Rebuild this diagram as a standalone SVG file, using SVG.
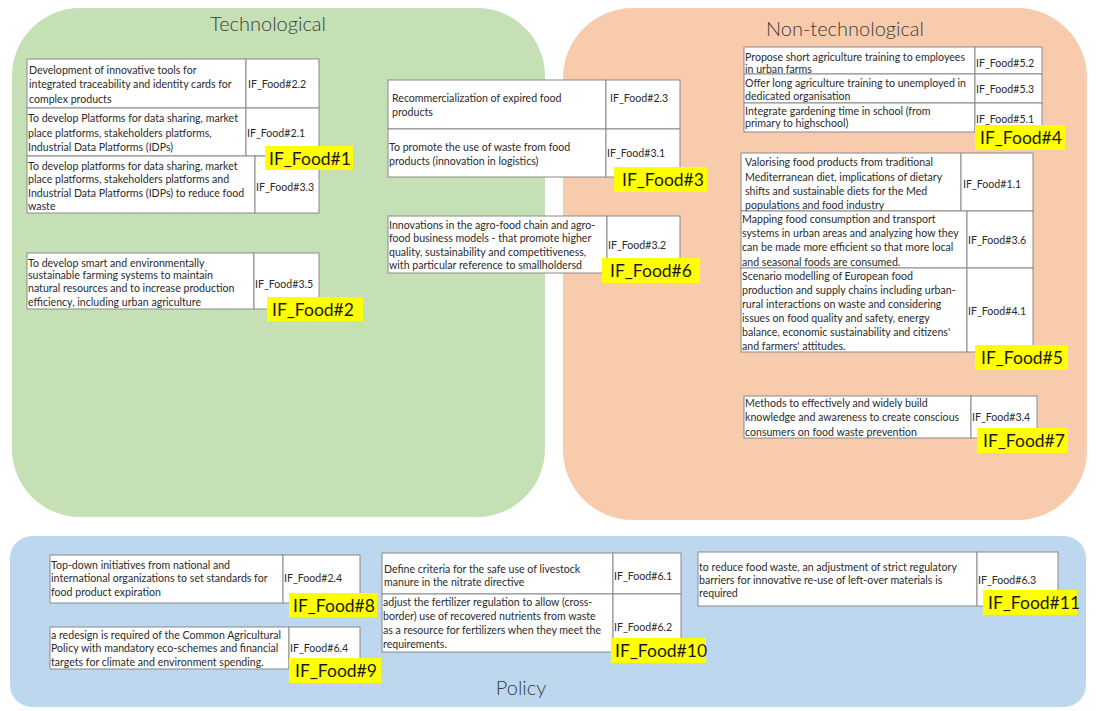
<svg xmlns="http://www.w3.org/2000/svg" width="1097" height="711" viewBox="0 0 1097 711">
<style>
.bg{fill:#fff}
.c{fill:#fff;stroke:#8a8a8a;stroke-width:1}
.t{font-family:Lato,"Liberation Sans",sans-serif;font-size:10.6px;fill:#2b2b2b}
.k{font-family:Lato,"Liberation Sans",sans-serif;font-size:10.6px;fill:#2b2b2b}
.y{fill:#ffff00}
.yt{font-family:Lato,"Liberation Sans",sans-serif;font-size:17.5px;fill:#1a1a1a}
.title{font-family:Lato,"Liberation Sans",sans-serif;font-size:20px;font-weight:300;fill:#3a3a3a;text-anchor:middle}
</style>
<rect class="bg" x="0" y="0" width="1097" height="711"/>
<g id="region-technological">
<rect x="12" y="8" width="533" height="509" rx="68" ry="68" fill="#c5e0b4"/>
<text class="title" x="268" y="31">Technological</text>
</g>
<g id="region-nontechnological">
<rect x="563" y="8" width="524" height="512" rx="70" ry="70" fill="#f8cbad"/>
<text class="title" x="845" y="36">Non-technological</text>
</g>
<g id="region-policy">
<rect x="10" y="536" width="1076" height="171" rx="22" ry="22" fill="#bdd7ee"/>
<text class="title" x="521" y="695">Policy</text>
</g>

<g id="node-IF_Food1">
<rect class="c" x="27" y="59" width="219" height="49"/><rect class="c" x="246" y="59" width="73" height="49"/>
<rect class="c" x="27" y="108" width="219" height="48"/><rect class="c" x="246" y="108" width="73" height="48"/>
<rect class="c" x="27" y="156" width="228" height="57"/><rect class="c" x="255" y="156" width="64" height="57"/>
<text class="t" x="29" y="74">Development of innovative tools for</text>
<text class="t" x="29" y="88">integrated traceability and identity cards for</text>
<text class="t" x="29" y="103">complex products</text>
<text class="k" x="248" y="88">IF_Food#2.2</text>
<text class="t" x="28" y="122">To develop Platforms for data sharing, market</text>
<text class="t" x="28" y="137">place platforms, stakeholders platforms,</text>
<text class="t" x="28" y="151">Industrial Data Platforms (IDPs)</text>
<text class="k" x="247" y="137">IF_Food#2.1</text>
<text class="t" x="28" y="170">To develop platforms for data sharing, market</text>
<text class="t" x="28" y="183">place platforms, stakeholders platforms and</text>
<text class="t" x="28" y="197">Industrial Data Platforms (IDPs) to reduce food</text>
<text class="t" x="28" y="210">waste</text>
<text class="k" x="256" y="191">IF_Food#3.3</text>
<rect class="y" x="265" y="146" width="88" height="24"/>
<text class="yt" x="269" y="165">IF_Food#1</text>
</g>

<g id="node-IF_Food2">
<rect class="c" x="27" y="253" width="227" height="56"/><rect class="c" x="254" y="253" width="65" height="56"/>
<text class="t" x="28" y="267">To develop smart and environmentally</text>
<text class="t" x="28" y="279">sustainable farming systems to maintain</text>
<text class="t" x="28" y="292">natural resources and to increase production</text>
<text class="t" x="28" y="306">efficiency, including urban agriculture</text>
<text class="k" x="255" y="288">IF_Food#3.5</text>
<rect class="y" x="267" y="297" width="96" height="24"/>
<text class="yt" x="272" y="316">IF_Food#2</text>
</g>

<g id="node-IF_Food3">
<rect class="c" x="388" y="80" width="218" height="49"/><rect class="c" x="606" y="80" width="74" height="49"/>
<rect class="c" x="388" y="129" width="218" height="48"/><rect class="c" x="606" y="129" width="74" height="48"/>
<text class="t" x="392" y="102">Recommercialization of expired food</text>
<text class="t" x="392" y="116">products</text>
<text class="k" x="610" y="102">IF_Food#2.3</text>
<text class="t" x="389" y="151">To promote the use of waste from food</text>
<text class="t" x="389" y="165">products (innovation in logistics)</text>
<text class="k" x="607" y="157">IF_Food#3.1</text>
<rect class="y" x="614" y="167" width="93" height="25"/>
<text class="yt" x="622" y="186">IF_Food#3</text>
</g>

<g id="node-IF_Food6">
<rect class="c" x="388" y="216" width="219" height="57"/><rect class="c" x="607" y="216" width="73" height="57"/>
<text class="t" x="389" y="229">Innovations in the agro-food chain and agro-</text>
<text class="t" x="389" y="242">food business models - that promote higher</text>
<text class="t" x="389" y="256">quality, sustainability and competitiveness,</text>
<text class="t" x="389" y="269">with particular reference to smallholdersd</text>
<text class="k" x="608" y="249">IF_Food#3.2</text>
<rect class="y" x="602" y="258" width="98" height="25"/>
<text class="yt" x="610" y="277">IF_Food#6</text>
</g>

<g id="node-IF_Food4">
<rect class="c" x="744" y="47" width="231" height="27"/><rect class="c" x="975" y="47" width="67" height="27"/>
<rect class="c" x="744" y="74" width="231" height="29"/><rect class="c" x="975" y="74" width="67" height="29"/>
<rect class="c" x="744" y="103" width="231" height="29"/><rect class="c" x="975" y="103" width="67" height="29"/>
<text class="t" x="745" y="61">Propose short agriculture training to employees</text>
<text class="t" x="745" y="73">in urban farms</text>
<text class="k" x="976" y="67">IF_Food#5.2</text>
<text class="t" x="745" y="87">Offer long agriculture training to unemployed in</text>
<text class="t" x="745" y="100">dedicated organisation</text>
<text class="k" x="976" y="93">IF_Food#5.3</text>
<text class="t" x="745" y="115">Integrate gardening time in school (from</text>
<text class="t" x="745" y="127">primary to highschool)</text>
<text class="k" x="976" y="123">IF_Food#5.1</text>
<rect class="y" x="975" y="125" width="90" height="25"/>
<text class="yt" x="980" y="144">IF_Food#4</text>
</g>

<g id="node-IF_Food5">
<rect class="c" x="741" y="153" width="220" height="58"/><rect class="c" x="961" y="153" width="72" height="58"/>
<rect class="c" x="741" y="211" width="226" height="57"/><rect class="c" x="967" y="211" width="66" height="57"/>
<rect class="c" x="741" y="268" width="226" height="84"/><rect class="c" x="967" y="268" width="66" height="84"/>
<text class="t" x="745" y="166">Valorising food products from traditional</text>
<text class="t" x="745" y="181">Mediterranean diet, implications of dietary</text>
<text class="t" x="745" y="195">shifts and sustainable diets for the Med</text>
<text class="t" x="745" y="209">populations and food industry</text>
<text class="k" x="963" y="188">IF_Food#1.1</text>
<text class="t" x="742" y="223">Mapping food consumption and transport</text>
<text class="t" x="742" y="237">systems in urban areas and analyzing how they</text>
<text class="t" x="742" y="251">can be made more efficient so that more local</text>
<text class="t" x="742" y="266">and seasonal foods are consumed.</text>
<text class="k" x="968" y="244">IF_Food#3.6</text>
<text class="t" x="742" y="280">Scenario modelling of European food</text>
<text class="t" x="742" y="294">production and supply chains including urban-</text>
<text class="t" x="742" y="308">rural interactions on waste and considering</text>
<text class="t" x="742" y="322">issues on food quality and safety, energy</text>
<text class="t" x="742" y="336">balance, economic sustainability and citizens'</text>
<text class="t" x="742" y="350">and farmers' attitudes.</text>
<text class="k" x="968" y="315">IF_Food#4.1</text>
<rect class="y" x="975" y="345" width="93" height="25"/>
<text class="yt" x="981" y="364">IF_Food#5</text>
</g>

<g id="node-IF_Food7">
<rect class="c" x="744" y="396" width="227" height="42"/><rect class="c" x="971" y="396" width="66" height="42"/>
<text class="t" x="745" y="407">Methods to effectively and widely build</text>
<text class="t" x="745" y="421">knowledge and awareness to create conscious</text>
<text class="t" x="745" y="436">consumers on food waste prevention</text>
<text class="k" x="972" y="421">IF_Food#3.4</text>
<rect class="y" x="977" y="428" width="91" height="25"/>
<text class="yt" x="983" y="447">IF_Food#7</text>
</g>

<g id="node-IF_Food8">
<rect class="c" x="50" y="555" width="233" height="48"/><rect class="c" x="283" y="555" width="77" height="48"/>
<text class="t" x="51" y="569">Top-down initiatives from national and</text>
<text class="t" x="51" y="582">international organizations to set standards for</text>
<text class="t" x="51" y="596">food product expiration</text>
<text class="k" x="284" y="582">IF_Food#2.4</text>
<rect class="y" x="289" y="593" width="88" height="24"/>
<text class="yt" x="293" y="612">IF_Food#8</text>
</g>

<g id="node-IF_Food9">
<rect class="c" x="50" y="627" width="239" height="42"/><rect class="c" x="289" y="627" width="71" height="42"/>
<text class="t" x="51" y="639"> a redesign is required of the Common Agricultural</text>
<text class="t" x="51" y="652">Policy with mandatory eco-schemes and financial</text>
<text class="t" x="51" y="666">targets for climate and environment spending.</text>
<text class="k" x="290" y="652">IF_Food#6.4</text>
<rect class="y" x="289" y="658" width="92" height="25"/>
<text class="yt" x="295" y="677">IF_Food#9</text>
</g>

<g id="node-IF_Food10">
<rect class="c" x="382" y="553" width="231" height="41"/><rect class="c" x="613" y="553" width="68" height="41"/>
<rect class="c" x="382" y="594" width="231" height="58"/><rect class="c" x="613" y="594" width="68" height="58"/>
<text class="t" x="384" y="573">Define criteria for the safe use of livestock</text>
<text class="t" x="384" y="586">manure in the nitrate directive</text>
<text class="k" x="614" y="580">IF_Food#6.1</text>
<text class="t" x="383" y="606">adjust the fertilizer regulation to allow (cross-</text>
<text class="t" x="383" y="620">border) use of recovered nutrients from waste</text>
<text class="t" x="383" y="634">as a resource for fertilizers when they meet the</text>
<text class="t" x="383" y="648">requirements.</text>
<text class="k" x="614" y="631">IF_Food#6.2</text>
<rect class="y" x="611" y="638" width="95" height="25"/>
<text class="yt" x="615" y="657">IF_Food#10</text>
</g>

<g id="node-IF_Food11">
<rect class="c" x="698" y="552" width="279" height="54"/><rect class="c" x="977" y="552" width="81" height="54"/>
<text class="t" x="699" y="571">to reduce food waste, an adjustment of strict regulatory</text>
<text class="t" x="699" y="584">barriers for innovative re-use of left-over materials is</text>
<text class="t" x="699" y="597">required</text>
<text class="k" x="978" y="584">IF_Food#6.3</text>
<rect class="y" x="983" y="590" width="94" height="25"/>
<text class="yt" x="988" y="609">IF_Food#11</text>
</g>

<g id="connectors"></g>
</svg>
